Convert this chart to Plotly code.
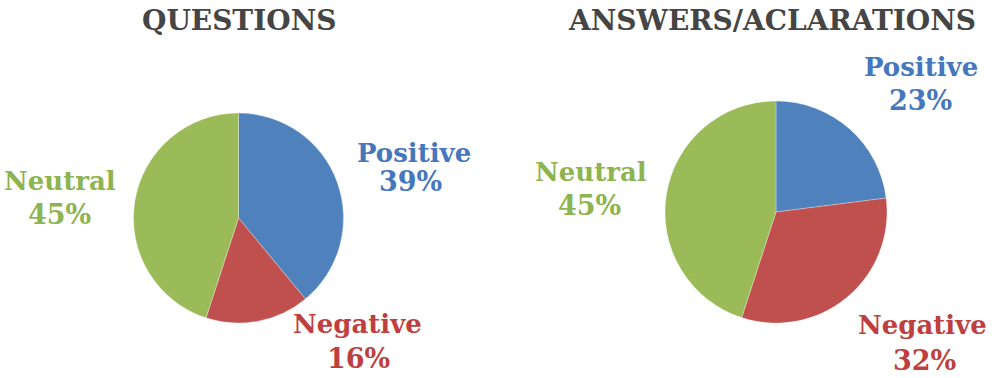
import plotly.graph_objects as go

W, H = 995, 378

categories = ["Positive", "Negative", "Neutral"]
questions_values = [39, 16, 45]
answers_values = [23, 32, 45]
titles = ["QUESTIONS", "ANSWERS/ACLARATIONS"]

slice_colors = ["#4F81BD", "#C0504D", "#9BBB59"]
text_colors = {"Positive": "#4677BC", "Negative": "#BE3F3F", "Neutral": "#8DB44F"}

FONT = "DejaVu Serif"

def px(x):
    return x / W

def py(y):
    return 1 - y / H

fig = go.Figure()

# left pie: center (238.5, 218), r 105 ; right pie: center (776, 212), r 111
pies = [
    (questions_values, (238.5, 218, 105)),
    (answers_values, (776, 212, 111)),
]
for vals, (cx, cy, r) in pies:
    fig.add_trace(go.Pie(
        labels=categories, values=vals, sort=False, direction="clockwise",
        rotation=0, textinfo="none", hoverinfo="label+percent",
        marker=dict(colors=slice_colors, line=dict(color="rgba(255,255,255,0.6)", width=0.5)),
        domain=dict(x=[px(cx - r), px(cx + r)], y=[py(cy + r), py(cy - r)]),
        showlegend=False,
    ))

# titles
title_pos = [(239, 20), (772, 20)]
for t, (x, y) in zip(titles, title_pos):
    fig.add_annotation(text=f"<b>{t}</b>", x=px(x), y=py(y), xref="paper", yref="paper",
                       xanchor="center", yanchor="middle", showarrow=False,
                       font=dict(family=FONT, size=28, color="#454545"))

# label positions (name center, pct center) in pixels
label_pos = [
    # questions
    ("Positive", questions_values[0], (414, 153), (410, 182)),
    ("Negative", questions_values[1], (357, 324), (358, 358)),
    ("Neutral", questions_values[2], (60, 181), (59, 214)),
    # answers
    ("Positive", answers_values[0], (921, 67), (920, 100)),
    ("Negative", answers_values[1], (922, 325), (924, 360)),
    ("Neutral", answers_values[2], (591, 172), (589, 205)),
]
for name, v, (nx, ny), (vx, vy) in label_pos:
    c = text_colors[name]
    fig.add_annotation(text=f"<b>{name}</b>", x=px(nx), y=py(ny), xref="paper", yref="paper",
                       xanchor="center", yanchor="middle", showarrow=False,
                       font=dict(family=FONT, size=26, color=c))
    fig.add_annotation(text=f"<b>{v}%</b>", x=px(vx), y=py(vy), xref="paper", yref="paper",
                       xanchor="center", yanchor="middle", showarrow=False,
                       font=dict(family=FONT, size=27, color=c))

fig.update_layout(
    width=W, height=H,
    margin=dict(l=0, r=0, t=0, b=0),
    paper_bgcolor="white", plot_bgcolor="white",
)

fig.write_html("out.html", config={"displayModeBar": False},
               post_script="document.body.style.margin='0';document.body.style.overflow='hidden';")
